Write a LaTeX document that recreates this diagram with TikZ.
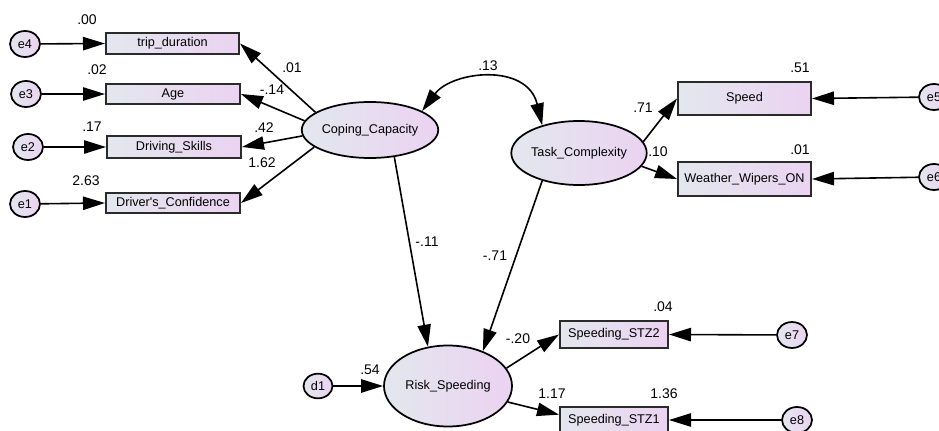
\documentclass[tikz,border=0pt]{standalone}
\usepackage{fontspec}
\setmainfont{Liberation Sans}
\usetikzlibrary{arrows.meta,shapes.geometric}
\definecolor{shadeL}{HTML}{E3E7EE}
\definecolor{shadeR}{HTML}{EBD3F1}
\definecolor{edgegray}{HTML}{2B2B2B}
\begin{document}
\begin{tikzpicture}[x=0.75pt,y=-0.75pt,
  >={Triangle[length=16.5pt,width=10pt]},
  obs/.style={rectangle,draw=edgegray,line width=1.5pt,left color=shadeL,right color=shadeR,
    inner sep=0pt,font=\fontsize{9.5}{11}\selectfont},
  latent/.style={ellipse,draw=black,line width=1.3pt,left color=shadeL,right color=shadeR,
    inner sep=0pt,font=\fontsize{9.5}{11}\selectfont},
  err/.style={ellipse,draw=black,line width=1.3pt,left color=shadeL,right color=shadeR,
    inner sep=0pt,minimum width=22.5pt,minimum height=19.5pt,font=\fontsize{9.5}{11}\selectfont},
  path/.style={->,line width=1.2pt},
  coef/.style={font=\fontsize{10.5}{12}\selectfont,inner sep=0pt}]
\useasboundingbox (0,0) rectangle (939,431);

% indicators of Coping_Capacity
\node[obs,minimum width=99.75pt,minimum height=15.75pt] (trip) at (172.5,43.5) {trip\_duration};
\node[obs,minimum width=100.5pt,minimum height=15pt] (age) at (173,94) {Age};
\node[obs,minimum width=100.5pt,minimum height=16.5pt] (skills) at (174,147) {Driving\_Skills};
\node[obs,minimum width=100.5pt,minimum height=15pt] (conf) at (173,203) {Driver\textquotesingle s\_Confidence};

\node[err] (e4) at (25,44) {e4};
\node[err] (e3) at (26,94) {e3};
\node[err] (e2) at (28,147) {e2};
\node[err] (e1) at (25,204) {e1};

% latent variables
\node[latent,minimum width=93pt,minimum height=42pt] (coping) at (370,130) {Coping\_Capacity};
\node[latent,minimum width=88.5pt,minimum height=48pt] (task) at (579,153) {Task\_Complexity};
\node[latent,minimum width=96pt,minimum height=60.75pt] (risk) at (448,386) {Risk\_Speeding};
\node[err,minimum width=21.75pt,minimum height=18.5pt] (d1) at (318,386) {d1};

% indicators of Task_Complexity
\node[obs,minimum width=99.75pt,minimum height=24.75pt] (speed) at (744.5,98.5) {Speed};
\node[obs,minimum width=99.75pt,minimum height=25.5pt] (wipers) at (744.5,179) {Weather\_Wipers\_ON};
\node[err] (e5) at (934,97) {e5};
\node[err] (e6) at (934,177) {e6};

% indicators of Risk_Speeding
\node[obs,minimum width=81pt,minimum height=20.25pt] (stz2) at (614,334.5) {Speeding\_STZ2};
\node[obs,minimum width=81pt,minimum height=20.25pt] (stz1) at (614,420) {Speeding\_STZ1};
\node[err] (e7) at (792,335) {e7};
\node[err] (e8) at (797,420) {e8};

% error terms
\draw[path] (e4) -- (trip.west);
\draw[path] (e3) -- (age.west);
\draw[path] (e2) -- (skills.west);
\draw[path] (e1) -- (conf.west);
\draw[path] (e5) -- (speed.east);
\draw[path] (e6) -- (wipers.east);
\draw[path] (e7) -- (stz2.east);
\draw[path] (e8) -- (stz1.east);
\draw[path] (d1) -- (risk);

% loadings
\draw[path] (coping.162) -- (trip.east);
\draw[path] (coping.172) -- (age.east);
\draw[path] (coping.185) -- (skills.east);
\draw[path] (coping.197) -- (conf.east);
\draw[path] (task.10) -- (speed.west);
\draw[path] (task.-12) -- (wipers.west);
\draw[path] (risk.17) -- (stz2.west);
\draw[path] (risk.-15) -- ([yshift=4pt]stz1.west);

% structural paths
\draw[path] (coping.-48) -- (risk.117);
\draw[path] (task.217) -- (risk.45);
\draw[<->,line width=1.2pt] (coping.20) .. controls +(30,-40) and +(-15,-63) .. (task.143);

% estimates
\node[coef] (l00) at (87,20) {.00};
\node[coef] (l02) at (97,70) {.02};
\node[coef] (l17) at (92,127) {.17};
\node[coef] (l263) at (86,181) {2.63};
\node[coef] (l01a) at (292,68) {.01};
\node[coef] (l14) at (272,90) {-.14};
\node[coef] (l42) at (264,128) {.42};
\node[coef] (l162) at (262,163) {1.62};
\node[coef] (l13) at (488,66) {.13};
\node[coef] (l71) at (643,108) {.71};
\node[coef] (l10) at (658,152) {.10};
\node[coef] (l51) at (800,68) {.51};
\node[coef] (l01b) at (800,150) {.01};
\node[coef] (l11) at (427,242) {-.11};
\node[coef] (l71n) at (495,256) {-.71};
\node[coef] (l04) at (663,307) {.04};
\node[coef] (l20) at (518,339) {-.20};
\node[coef] (l54) at (370,370) {.54};
\node[coef] (l117) at (552,394) {1.17};
\node[coef] (l136) at (664,394) {1.36};
\end{tikzpicture}
\end{document}
